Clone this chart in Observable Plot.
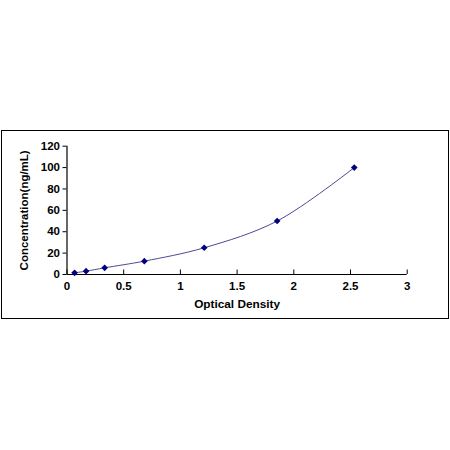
<!DOCTYPE html>
<html>
<head>
<meta charset="utf-8">
<script src="https://cdn.jsdelivr.net/npm/d3@7"></script>
<script src="https://cdn.jsdelivr.net/npm/@observablehq/plot@0.6"></script>
<style>
  html, body { margin: 0; padding: 0; background: #fff; }
  #wrap { position: relative; width: 450px; height: 450px; }
  #frame { position: absolute; left: 1px; top: 130px; width: 446px; height: 187px; border: 1.3px solid #000; pointer-events: none; }
  #chart { position: absolute; left: 0; top: 0; }
</style>
</head>
<body>
<div id="wrap"><div id="chart"></div><div id="frame"></div></div>
<script>
const opticalDensity = [0.067, 0.168, 0.332, 0.682, 1.21, 1.853, 2.533];
const concentration = [1.56, 3.13, 6.25, 12.5, 25, 50, 100];
const xTicks = [0, 0.5, 1, 1.5, 2, 2.5, 3];
const yTicks = [0, 20, 40, 60, 80, 100, 120];
const xTitle = "Optical Density";
const yTitle = "Concentration(ng/mL)";

const data = opticalDensity.map((x, i) => ({x, y: concentration[i]}));

const chart = Plot.plot({
  width: 450,
  height: 450,
  marginLeft: 66.5,
  marginRight: 43.3,
  marginTop: 145.7,
  marginBottom: 176,
  style: {fontFamily: "'Liberation Sans', Arial, sans-serif", fontWeight: "bold", fontSize: "11px", color: "#000", background: "transparent"},
  x: {domain: [0, 3]},
  y: {domain: [0, 120]},
  marks: [
    Plot.axisX(xTicks, {tickSize: -4.5, tickPadding: 12, tickFormat: d => String(d), label: null, fontWeight: "bold", fontSize: 11.5}),
    Plot.axisY(yTicks, {tickSize: 4, tickPadding: 3, tickFormat: d => String(d), label: null, fontWeight: "bold", fontSize: 11.5}),
    Plot.ruleY([0], {stroke: "#000", strokeWidth: 1.2}),
    Plot.ruleX([0], {stroke: "#000", strokeWidth: 1.2}),
    Plot.line(data, {x: "x", y: "y", curve: "catmull-rom", stroke: "#4a4a96", strokeWidth: 1}),
    Plot.dot(data, {x: "x", y: "y", symbol: "diamond2", r: 3, fill: "#000080", stroke: "none"}),
    Plot.text([xTitle], {frameAnchor: "bottom", dy: 30, fontSize: 11.8, fontWeight: "bold", lineAnchor: "middle", textAnchor: "middle"}),
    Plot.text([yTitle], {frameAnchor: "left", dx: -42.5, rotate: -90, fontSize: 11.5, fontWeight: "bold", textAnchor: "middle"})
  ]
});
document.getElementById("chart").appendChild(chart);
</script>
</body>
</html>
